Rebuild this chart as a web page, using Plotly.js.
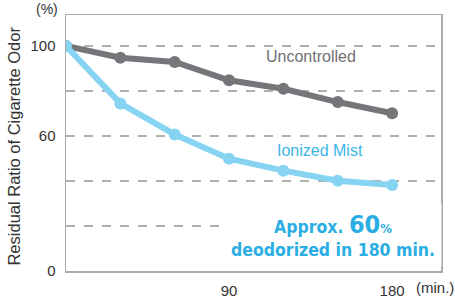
<!DOCTYPE html>
<html><head><meta charset="utf-8">
<script src="https://cdn.plot.ly/plotly-3.0.1.min.js"></script>
<style>html,body{margin:0;padding:0;background:#fff}</style>
</head><body>
<div id="chart" style="width:455px;height:298px"></div>
<script>
var minutes = [0, 30, 60, 90, 120, 150, 180];
var uncontrolled = [100, 94.8, 92.9, 84.8, 81, 75.1, 70.1];
var ionizedMist = [100, 74.5, 60.7, 49.9, 44.6, 40.1, 38.2];
var yTickVals = [0, 20, 40, 60, 80, 100];
var yTickText = ['0', '', '', '60', '', '100'];
var xTickVals = [90, 180];
var xTickText = ['90', '180'];

var font = 'Liberation Sans, Arial, sans-serif';
var traces = [
  {x: minutes, y: uncontrolled, mode: 'lines+markers', name: 'Uncontrolled',
   line: {color: '#76767a', width: 6}, marker: {color: '#76767a', size: 12}},
  {x: minutes, y: ionizedMist, mode: 'lines+markers', name: 'Ionized Mist',
   line: {color: '#86d4f2', width: 6}, marker: {color: '#86d4f2', size: 12}}
];
var layout = {
  width: 455, height: 298,
  margin: {l: 66, r: 14, t: 15, b: 27},
  paper_bgcolor: '#fff', plot_bgcolor: '#fff',
  showlegend: false,
  font: {family: font, size: 15, color: '#333'},
  xaxis: {range: [0, 207], tickvals: xTickVals, ticktext: xTickText,
    showgrid: false, zeroline: false, showline: true, mirror: true,
    linecolor: '#aaaaaa', linewidth: 1.5, ticks: 'outside', ticklen: 5,
    tickcolor: 'rgba(0,0,0,0)', tickfont: {size: 15, color: '#333'}},
  yaxis: {range: [0, 113.8], tickvals: yTickVals, ticktext: yTickText,
    showgrid: true, gridcolor: '#b0b0b0', gridwidth: 1.5, griddash: 'dash',
    zeroline: false, showline: true, mirror: true,
    linecolor: '#aaaaaa', linewidth: 1.5, ticks: 'outside', ticklen: 6,
    tickcolor: 'rgba(0,0,0,0)', tickfont: {size: 15, color: '#333'}},
  annotations: [
    {xref: 'paper', yref: 'paper', x: -0.1387, y: 0.49, xanchor: 'center', yanchor: 'middle',
     textangle: -90, text: 'Residual Ratio of Cigarette Odor', showarrow: false,
     font: {size: 16.5, color: '#333'}},
    {xref: 'paper', yref: 'paper', x: -0.05, y: 1.024, xanchor: 'center', yanchor: 'middle',
     text: '(%)', showarrow: false, font: {size: 14, color: '#333'}},
    {xref: 'paper', yref: 'paper', x: 0.984, y: -0.066, xanchor: 'center', yanchor: 'middle',
     text: '(min.)', showarrow: false, font: {size: 15, color: '#333'}},
    {xref: 'x', yref: 'y', x: 135, y: 95.5, text: 'Uncontrolled', showarrow: false,
     font: {size: 16, color: '#707074'}},
    {xref: 'x', yref: 'y', x: 140, y: 53.5, text: 'Ionized Mist', showarrow: false,
     font: {size: 16, color: '#3cb6e6'}},
    {xref: 'x', yref: 'y', x: 147.4, y: 16, showarrow: false, bgcolor: '#fff', borderpad: 6,
     text: 'Approx. <span style="font-size:25px">60</span><span style="font-size:13px">%</span><br>deodorized in 180 min.',
     font: {family: 'Liberation Sans Narrow, DejaVu Sans Condensed, sans-serif', size: 17.5, color: '#2aaee4', weight: 'bold'}}
  ]
};
Plotly.newPlot('chart', traces, layout, {staticPlot: true, displayModeBar: false});
</script>
</body></html>
